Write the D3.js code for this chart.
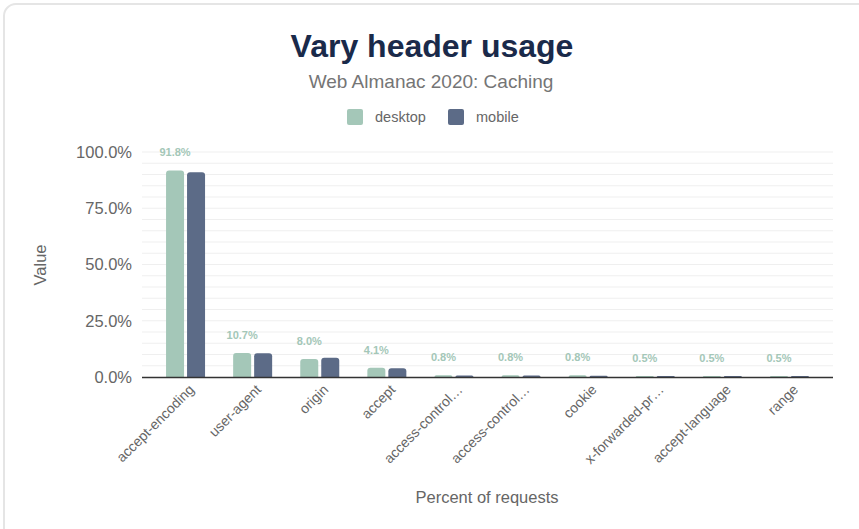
<!DOCTYPE html>
<html>
<head>
<meta charset="utf-8">
<script src="https://cdn.jsdelivr.net/npm/d3@7"></script>
<style>
  html, body { margin: 0; padding: 0; background: #fff; }
  svg { display: block; font-family: "Liberation Sans", Arial, sans-serif; }
</style>
</head>
<body>
<div id="chart"></div>
<script>
const categories = ["accept-encoding", "user-agent", "origin", "accept", "access-control-allow-origin",
  "access-control-request-headers", "cookie", "x-forwarded-proto", "accept-language", "range"];
const desktop = [91.8, 10.7, 8.0, 4.1, 0.8, 0.8, 0.8, 0.5, 0.5, 0.5];
const mobile = [91.0, 10.6, 8.6, 3.9, 0.7, 0.7, 0.6, 0.5, 0.5, 0.5];
const yTicks = [0, 25, 50, 75, 100];
const series = [
  { key: "desktop", values: desktop, color: "#a4c7b8" },
  { key: "mobile", values: mobile, color: "#5c6b87" }
];

const W = 859, H = 529;
const margin = { left: 142, right: 26, top: 152, bottom: 152 };
const innerW = W - margin.left - margin.right;
const innerH = H - margin.top - margin.bottom;

const svg = d3.select("#chart").append("svg").attr("width", W).attr("height", H);

// card
svg.append("rect")
  .attr("x", 4).attr("y", 4)
  .attr("width", W + 20).attr("height", H + 20)
  .attr("rx", 12)
  .attr("fill", "#fff").attr("stroke", "#e5e5e5").attr("stroke-width", 2);

svg.append("text")
  .attr("x", 432).attr("y", 57)
  .attr("text-anchor", "middle")
  .attr("font-family", "Liberation Sans, Arial, sans-serif")
  .attr("font-weight", "bold")
  .attr("font-size", 32)
  .attr("fill", "#1a2a4a")
  .text("Vary header usage");

svg.append("text")
  .attr("x", 431).attr("y", 88)
  .attr("text-anchor", "middle")
  .attr("font-size", 19)
  .attr("fill", "#757575")
  .text("Web Almanac 2020: Caching");

// legend
const legend = svg.append("g").attr("transform", "translate(347,109)");
const legendX = [0, 101];
series.forEach((s, i) => {
  const g = legend.append("g").attr("transform", `translate(${legendX[i]},0)`);
  g.append("rect").attr("width", 16).attr("height", 16).attr("rx", 2).attr("fill", s.color);
  g.append("text").attr("x", 28).attr("y", 13).attr("font-size", 14.5).attr("fill", "#666").text(s.key);
});

const chart = svg.append("g").attr("transform", `translate(${margin.left},${margin.top})`);

const x = d3.scaleBand().domain(categories).range([10, innerW - 10]);
const y = d3.scaleLinear().domain([0, 100]).range([innerH, 0]);

// grid every 5%
chart.append("g")
  .selectAll("line")
  .data(d3.range(5, 101, 5))
  .join("line")
  .attr("x1", 0).attr("x2", innerW)
  .attr("y1", (d) => y(d)).attr("y2", (d) => y(d))
  .attr("stroke", "#efefef").attr("stroke-width", 1);

// y axis labels
const yAxis = chart.append("g")
  .call(d3.axisLeft(y).tickValues(yTicks).tickSize(0).tickPadding(10).tickFormat((d) => d.toFixed(1) + "%"));
yAxis.select(".domain").remove();
yAxis.selectAll("text").attr("font-size", 16.5).attr("fill", "#666").attr("font-family", "Liberation Sans, Arial, sans-serif");

// bars
const barW = 18, gap = 3;
function barPath(bx, by, bw, bh, r) {
  r = Math.min(r, bh, bw / 2);
  return `M${bx},${by + bh}V${by + r}Q${bx},${by} ${bx + r},${by}H${bx + bw - r}Q${bx + bw},${by} ${bx + bw},${by + r}V${by + bh}Z`;
}
series.forEach((s, i) => {
  chart.append("g")
    .selectAll("path")
    .data(categories.map((c, j) => ({ c, v: s.values[j] })))
    .join("path")
    .attr("fill", s.color)
    .attr("d", (d) => {
      const cx = x(d.c) + x.bandwidth() / 2;
      const bx = i === 0 ? cx - gap / 2 - barW : cx + gap / 2;
      const top = y(d.v);
      return barPath(bx, top, barW, innerH - top, 3);
    });
});

// value labels (desktop)
chart.append("g")
  .selectAll("text")
  .data(categories.map((c, j) => ({ c, v: desktop[j] })))
  .join("text")
  .attr("x", (d) => x(d.c) + x.bandwidth() / 2 - gap / 2 - barW / 2)
  .attr("y", (d) => y(d.v) - 14)
  .attr("text-anchor", "middle")
  .attr("font-size", 11)
  .attr("font-weight", "bold")
  .attr("fill", "#a4c7b8")
  .text((d) => d.v.toFixed(1) + "%");

// x axis line
chart.append("line")
  .attr("x1", 0).attr("x2", innerW)
  .attr("y1", innerH + 0.5).attr("y2", innerH + 0.5)
  .attr("stroke", "#333").attr("stroke-width", 1.5);

// x tick labels, cut with an ellipsis when too long
const maxLabelW = 106;
const xLabels = chart.append("g")
  .selectAll("text")
  .data(categories)
  .join("text")
  .attr("transform", (d) => `translate(${x(d) + x.bandwidth() / 2 + 6},${innerH + 10}) rotate(-45)`)
  .attr("text-anchor", "end")
  .attr("dy", "0.35em")
  .attr("font-size", 14)
  .attr("fill", "#666")
  .text((d) => d);
xLabels.each(function (d) {
  const t = d3.select(this);
  if (this.getComputedTextLength() <= maxLabelW) return;
  let s = d;
  while (s.length > 1) {
    s = s.slice(0, -1);
    t.text(s + "…");
    if (this.getComputedTextLength() <= maxLabelW) break;
  }
});

// axis titles
svg.append("text")
  .attr("x", 487).attr("y", 503)
  .attr("text-anchor", "middle")
  .attr("font-size", 16.5)
  .attr("fill", "#666")
  .text("Percent of requests");

svg.append("text")
  .attr("transform", "translate(46,265) rotate(-90)")
  .attr("text-anchor", "middle")
  .attr("font-size", 16.5)
  .attr("fill", "#666")
  .text("Value");
</script>
</body>
</html>
